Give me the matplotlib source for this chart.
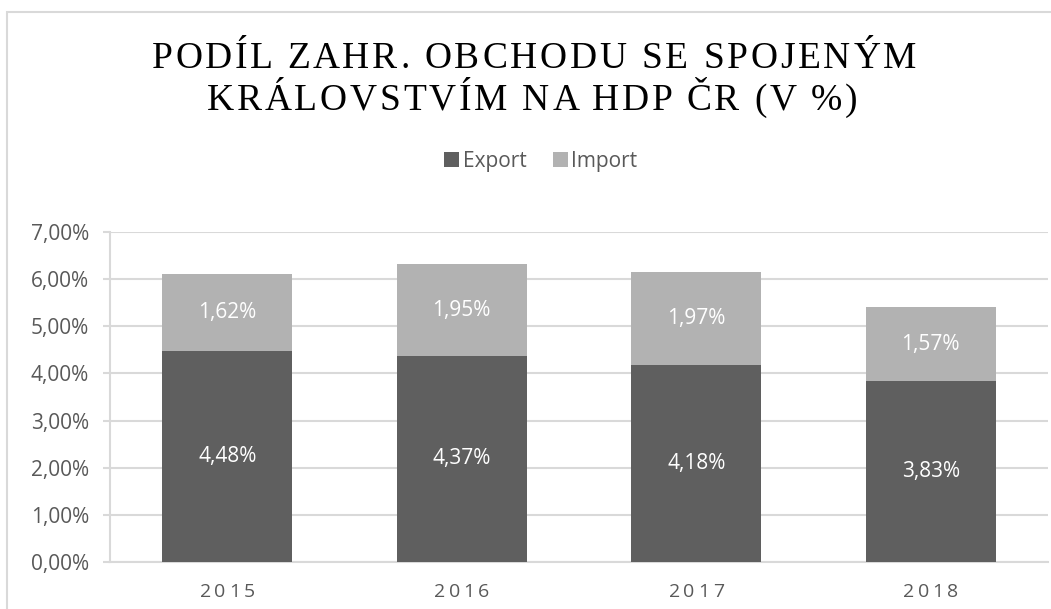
import matplotlib
matplotlib.use("Agg")
import matplotlib.pyplot as plt
from matplotlib.patches import Rectangle
import numpy as np

plt.rcParams['font.family'] = ['Open Sans', 'DejaVu Sans']

years = ['2015', '2016', '2017', '2018']
export_vals = [4.48, 4.37, 4.18, 3.83]
import_vals = [1.62, 1.95, 1.97, 1.57]
title_lines = ['PODÍL ZAHR. OBCHODU SE SPOJENÝM', 'KRÁLOVSTVÍM NA HDP ČR (V %)']

EXPORT_COLOR = '#5f5f5f'
IMPORT_COLOR = '#b2b2b2'
GRID_COLOR = '#d9d9d9'
TEXT_COLOR = '#595959'

W, H = 1051, 609
fig = plt.figure(figsize=(W / 100, H / 100), dpi=100)
fig.patch.set_facecolor('white')
renderer = fig.canvas.get_renderer()


def text_width(s, **kw):
    t = fig.text(0, 0, s, **kw)
    w = t.get_window_extent(renderer).width
    t.remove()
    return w


def spaced_text(cx, baseline, s, spacing, **kw):
    """text with letter spacing, centred at cx (pixels), baseline in pixels from top"""
    total = text_width(s, **kw) + spacing * (len(s) - 1)
    x0 = cx - total / 2
    for k, ch in enumerate(s):
        if ch == ' ':
            continue
        left = text_width(s[:k + 1], **kw) - text_width(ch, **kw) + k * spacing
        fig.text((x0 + left) / W, 1 - baseline / H, ch, ha='left', va='baseline', **kw)


# chart frame (cut off on right and bottom in the reference)
fig.patches.append(Rectangle((7 / W, -0.1), 1.2, 1 - 12 / H + 0.1,
                             transform=fig.transFigure, fill=False,
                             edgecolor=GRID_COLOR, linewidth=1.5))

ax = fig.add_axes([110 / W, 1 - 562 / H, 938 / W, 330 / H])
x = np.arange(len(years))
w = 0.555
ex = np.array(export_vals) / 100
im = np.array(import_vals) / 100
b1 = ax.bar(x, ex, w, color=EXPORT_COLOR, label='Export', zorder=3)
b2 = ax.bar(x, im, w, bottom=ex, color=IMPORT_COLOR, label='Import', zorder=3)

for xi, e, i in zip(x, ex, im):
    ax.text(xi, e / 2, f"{e * 100:.2f}%".replace('.', ','), ha='center', va='center',
            color='white', fontsize=15, zorder=4)
    ax.text(xi, e + i / 2, f"{i * 100:.2f}%".replace('.', ','), ha='center', va='center',
            color='white', fontsize=15, zorder=4)

ax.set_xlim(-0.5, 3.5)
ax.set_ylim(0, 0.07)
ax.set_yticks(np.arange(0, 0.0701, 0.01))
ax.set_yticklabels([f"{v:.2f}%".replace('.', ',') for v in np.arange(0, 7.01, 1)])
ax.set_xticks(x)
ax.set_xticklabels([])
ax.yaxis.grid(True, color=GRID_COLOR, linewidth=1.5, zorder=0)
ax.set_axisbelow(True)
for s in ['top', 'right']:
    ax.spines[s].set_visible(False)
for s in ['left', 'bottom']:
    ax.spines[s].set_color(GRID_COLOR)
    ax.spines[s].set_linewidth(1.5)
ax.tick_params(axis='y', length=5, width=1.5, color=GRID_COLOR, labelcolor=TEXT_COLOR,
               labelsize=15, pad=10)
ax.tick_params(axis='x', length=0)

# year labels, letter spaced
for xi, yr in zip(x, years):
    px = ax.transData.transform((xi, 0))[0]
    spaced_text(px, 597, yr, 3.5, fontsize=14, color=TEXT_COLOR)

# title
spaced_text(534, 68, title_lines[0], 2.8, family='Liberation Serif', fontsize=27, color='black')
spaced_text(532, 110, title_lines[1], 2.8, family='Liberation Serif', fontsize=27, color='black')

fig.legend(handles=[b1, b2], labels=['Export', 'Import'], loc='center',
           bbox_to_anchor=(541 / W, 1 - 161 / H), ncol=2, frameon=False,
           fontsize=15, labelcolor=TEXT_COLOR, handlelength=0.72, handleheight=0.72,
           handletextpad=0.15, columnspacing=1.3)

fig.savefig('out.png', dpi=100)
